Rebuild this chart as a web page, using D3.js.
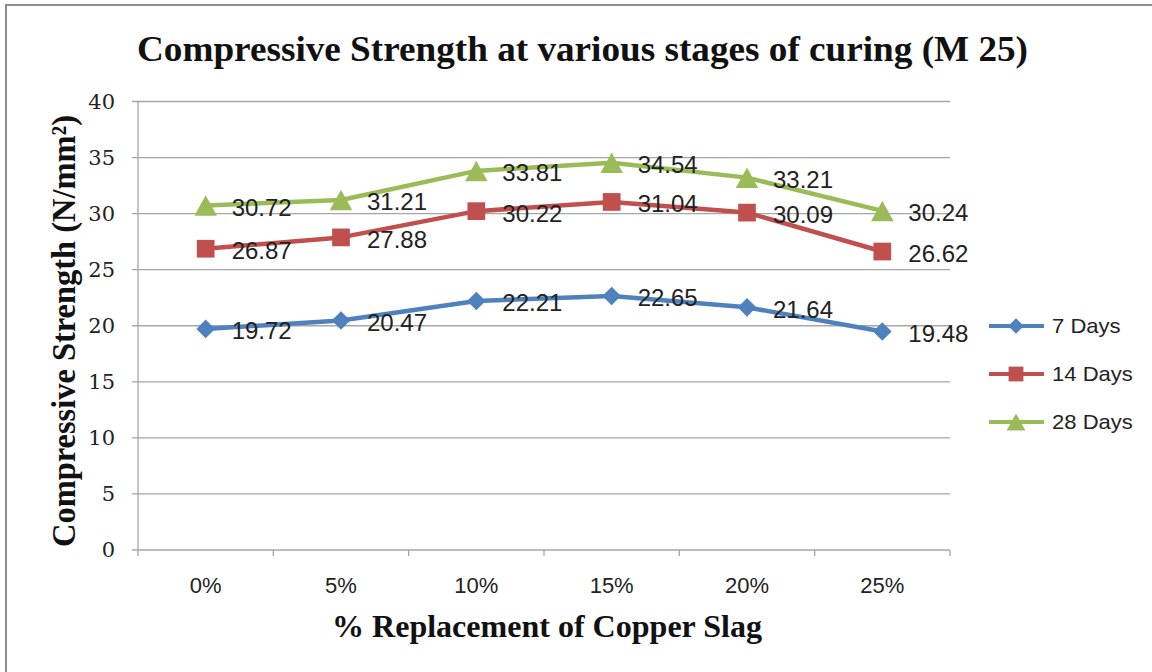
<!DOCTYPE html>
<html><head><meta charset="utf-8">
<script src="https://cdn.jsdelivr.net/npm/d3@7"></script>
<style>body{margin:0;background:#fff}svg{display:block}</style>
</head><body>
<script>
const categories = ["0%","5%","10%","15%","20%","25%"];
const days7 = [19.72,20.47,22.21,22.65,21.64,19.48];
const days14 = [26.87,27.88,30.22,31.04,30.09,26.62];
const days28 = [30.72,31.21,33.81,34.54,33.21,30.24];
const seriesNames = ["7 Days","14 Days","28 Days"];
const yTicks = [0,5,10,15,20,25,30,35,40];
const titleText = "Compressive Strength at various stages of curing (M 25)";
const yTitle = "Compressive Strength (N/mm\u00B2)";
const xTitle = "% Replacement of Copper Slag";

const W=1152,H=672;
const svg=d3.select("body").append("svg").attr("width",W).attr("height",H);
svg.append("rect").attr("x",6).attr("y",5).attr("width",W+20).attr("height",H+20)
  .attr("fill","#fff").attr("stroke","#8c8c8c").attr("stroke-width",2);

const L=138,R=950,T=101.5,B=550;
const x=d3.scaleBand().domain(categories).range([L,R]);
const y=d3.scaleLinear().domain([0,40]).range([B,T]);

const sans="'Liberation Sans', Arial, sans-serif";
const serif="'Liberation Serif','Times New Roman', serif";
const tickSerif="'DejaVu Serif', serif";
function stretch(sel,k){sel.each(function(){const n=this.getComputedTextLength();d3.select(this).attr("textLength",n*k).attr("lengthAdjust","spacingAndGlyphs");});}

// gridlines
svg.append("g").selectAll("line").data(yTicks).join("line")
  .attr("x1",L-6).attr("x2",R).attr("y1",d=>y(d)).attr("y2",d=>y(d))
  .attr("stroke","#a6a6a6").attr("stroke-width",1.3);
svg.append("line").attr("x1",L).attr("x2",L).attr("y1",T).attr("y2",B).attr("stroke","#a6a6a6").attr("stroke-width",1.3);
const xb=categories.map(c=>x(c)).concat([R]);
svg.append("g").selectAll("line").data(xb).join("line")
  .attr("x1",d=>d).attr("x2",d=>d).attr("y1",B).attr("y2",B+6)
  .attr("stroke","#a6a6a6").attr("stroke-width",1.3);
// y tick labels
svg.append("g").selectAll("text").data(yTicks).join("text")
  .attr("x",115).attr("y",d=>y(d)).attr("dy","0.35em").attr("text-anchor","end")
  .attr("font-family",tickSerif).attr("font-size",21).attr("fill","#222").text(d=>d);
// x tick labels
svg.append("g").selectAll("text").data(categories).join("text")
  .attr("x",d=>x(d)+x.bandwidth()/2).attr("y",585).attr("dy","0.35em").attr("text-anchor","middle")
  .attr("font-family",sans).attr("font-size",22).attr("fill","#222").text(d=>d);

// titles
svg.append("text").attr("x",137).attr("y",61)
  .attr("font-family",serif).attr("font-weight","bold").attr("font-size",35).attr("fill","#111")
  .attr("textLength",891).attr("lengthAdjust","spacingAndGlyphs").text(titleText);
svg.append("text").attr("transform","translate(75,331) rotate(-90)").attr("text-anchor","middle")
  .attr("font-family",serif).attr("font-weight","bold").attr("font-size",33).attr("fill","#111")
  .attr("textLength",432).attr("lengthAdjust","spacingAndGlyphs").text(yTitle);
svg.append("text").attr("x",332).attr("y",637)
  .attr("font-family",serif).attr("font-weight","bold").attr("font-size",32).attr("fill","#111")
  .attr("textLength",430).attr("lengthAdjust","spacingAndGlyphs").text(xTitle);

const colors=["#4F81BD","#C0504D","#9BBB59"];
const tri={draw(ctx,size){const s=Math.sqrt(size);const w=s*0.55,h=s*0.5;ctx.moveTo(0,-h);ctx.lineTo(w,h);ctx.lineTo(-w,h);ctx.closePath();}};
const symbols=[d3.symbolDiamond2,d3.symbolSquare2,tri];
const symSizes=[220,400,420];
const data=[days7,days14,days28];
const line=d3.line().x((d,i)=>x(categories[i])+x.bandwidth()/2).y(d=>y(d));

data.forEach((vals,s)=>{
  const g=svg.append("g");
  g.append("path").datum(vals).attr("d",line).attr("fill","none")
    .attr("stroke",colors[s]).attr("stroke-width",4.5).attr("stroke-linejoin","round");
  g.selectAll("path.m").data(vals).join("path").attr("class","m")
    .attr("transform",(d,i)=>`translate(${x(categories[i])+x.bandwidth()/2},${y(d)})`)
    .attr("d",d3.symbol().type(symbols[s]).size(symSizes[s])).attr("fill",colors[s]);
  g.selectAll("text").data(vals).join("text")
    .attr("x",(d,i)=>x(categories[i])+x.bandwidth()/2+26).attr("y",d=>y(d)+2).attr("dy","0.35em")
    .attr("font-family",sans).attr("font-size",24).attr("fill","#222").text(d=>d.toFixed(2));
});

// legend
const ly=[326,374,422];
seriesNames.forEach((n,s)=>{
  const g=svg.append("g");
  g.append("line").attr("x1",989).attr("x2",1044).attr("y1",ly[s]).attr("y2",ly[s])
    .attr("stroke",colors[s]).attr("stroke-width",4);
  g.append("path").attr("transform",`translate(1016,${ly[s]})`)
    .attr("d",d3.symbol().type(symbols[s]).size(symSizes[s]*0.7)).attr("fill",colors[s]);
  const t=g.append("text").attr("x",1052).attr("y",ly[s]).attr("dy","0.35em")
    .attr("font-family",sans).attr("font-size",21).attr("fill","#222").text(n);
  stretch(t,1.05);
});
</script>
</body></html>
